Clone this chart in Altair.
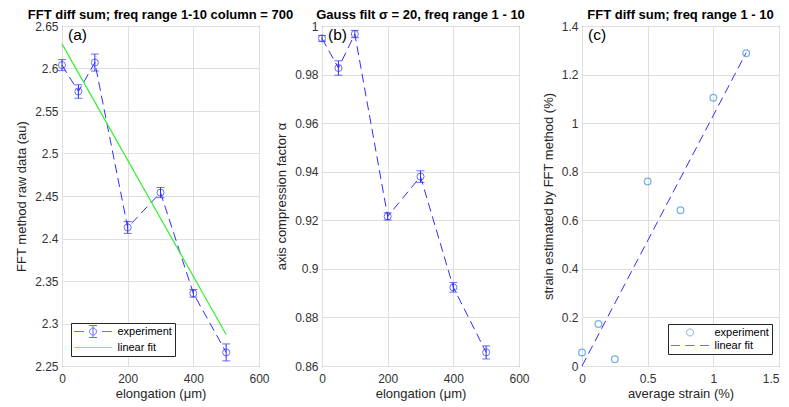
import altair as alt
import pandas as pd

# ---------------- data ----------------
elongation = [0, 50, 100, 200, 300, 400, 500]
fft_raw = [2.604, 2.573, 2.607, 2.413, 2.454, 2.3355, 2.266]
fft_raw_err = [0.0065, 0.008, 0.010, 0.007, 0.006, 0.0045, 0.010]
fit_a_x = [0, 500]
fit_a_y = [2.629, 2.287]

compression = [0.9949, 0.9827, 0.9967, 0.9216, 0.9380, 0.8924, 0.8656]
compression_err = [0.0012, 0.003, 0.0015, 0.0015, 0.0024, 0.002, 0.0027]

avg_strain = [0, 0.125, 0.25, 0.5, 0.75, 1.0, 1.25]
fft_strain = [0.056, 0.173, 0.028, 0.76, 0.641, 1.105, 1.288]
fit_c_x = [0, 1.25]
fit_c_y = [0, 1.29]

series = ["experiment", "linear fit"]
panel_titles = [
    "FFT diff sum; freq range 1-10 column = 700",
    "Gauss filt σ = 20, freq range 1 - 10",
    "FFT diff sum; freq range 1 - 10",
]
panel_labels = ["(a)", "(b)", "(c)"]
x_titles = ["elongation (μm)", "elongation (μm)", "average strain (%)"]
y_titles = ["FFT method raw data (au)", "axis compression factor α",
            "strain estimated by FFT method (%)"]
x_ticks_ab = [0, 200, 400, 600]
y_ticks_a = [2.25, 2.3, 2.35, 2.4, 2.45, 2.5, 2.55, 2.6, 2.65]
y_ticks_b = [0.86, 0.88, 0.9, 0.92, 0.94, 0.96, 0.98, 1.0]
x_ticks_c = [0, 0.5, 1, 1.5]
y_ticks_c = [0, 0.2, 0.4, 0.6, 0.8, 1.0, 1.2, 1.4]

# ---------------- style ----------------
FONT = "Liberation Sans"
BLUE = "#2f2fff"
GREEN = "#33ee33"
LIGHTBLUE = "#3d97d8"
W, H = 197, 340

# legend glyphs (custom symbol paths)
EXP_ERR_PATH = ("M-3.8,0L-1.8,0M1.8,0L3.8,0"
                "M0.7,0A0.7,0.7 0 1,1 -0.7,0A0.7,0.7 0 1,1 0.7,0"
                "M0,-1.2L0,1.2M-0.8,-1.2L0.8,-1.2M-0.8,1.2L0.8,1.2")
SOLID_PATH = "M-3.8,0L3.8,0"
CIRCLE_PATH = "M0.7,0A0.7,0.7 0 1,1 -0.7,0A0.7,0.7 0 1,1 0.7,0"
DASH_PATH = "M-3.8,0L-2.0,0M-0.9,0L0.9,0M2.0,0L3.8,0"


def legend_layer(field, paths, colors, lx, ly):
    df = pd.DataFrame({field: series})
    leg = alt.Legend(title=None, orient="none", legendX=lx, legendY=ly,
                     fillColor="white", strokeColor="#262626", padding=3,
                     symbolSize=100, symbolStrokeWidth=1, symbolOffset=13.5,
                     labelOffset=19, labelFont=FONT, labelFontSize=11,
                     labelColor="black", rowPadding=1)
    return alt.Chart(df).mark_point(filled=False, clip=True, strokeWidth=1).encode(
        x=alt.value(-500), y=alt.value(-500),
        color=alt.Color(f"{field}:N", scale=alt.Scale(domain=series, range=colors), legend=leg),
        shape=alt.Shape(f"{field}:N", scale=alt.Scale(domain=series, range=paths), legend=leg),
    )


def label_layer(text):
    return alt.Chart(pd.DataFrame({"t": [text]})).mark_text(
        align="left", baseline="top", font=FONT, fontSize=15.5, color="black"
    ).encode(x=alt.value(6), y=alt.value(2), text="t:N")


def enc_x(field, domain, ticks, fmt, title, last_right=False):
    axis_kw = dict(values=ticks, format=fmt)
    if last_right:
        axis_kw["labelAlign"] = {"condition": {"test": f"datum.value >= {ticks[-1]}", "value": "right"},
                                 "value": "center"}
    return alt.X(f"{field}:Q", scale=alt.Scale(domain=domain, nice=False, zero=False),
                 axis=alt.Axis(**axis_kw), title=title)


def enc_y(field, domain, ticks, fmt, title):
    return alt.Y(f"{field}:Q", scale=alt.Scale(domain=domain, nice=False, zero=False),
                 axis=alt.Axis(values=ticks, format=fmt), title=title)


def errorbar_panel(idx, yvals, yerr, ydomain, yticks, yfmt, fit=None, legend=None):
    df = pd.DataFrame({
        "x": elongation, "y": yvals,
        "lo": [v - e for v, e in zip(yvals, yerr)],
        "hi": [v + e for v, e in zip(yvals, yerr)],
    })
    X = lambda f: enc_x(f, [0, 600], x_ticks_ab, "d", x_titles[idx])
    Y = lambda f: enc_y(f, ydomain, yticks, yfmt, y_titles[idx])
    base = alt.Chart(df)
    layers = [
        base.mark_line(color=BLUE, strokeWidth=1, strokeDash=[9, 5]).encode(X("x"), Y("y")),
        base.mark_rule(color=BLUE, strokeWidth=1).encode(X("x"), Y("lo"), y2="hi:Q"),
        base.mark_tick(orient="horizontal", size=8, thickness=1, color=BLUE).encode(X("x"), Y("lo")),
        base.mark_tick(orient="horizontal", size=8, thickness=1, color=BLUE).encode(X("x"), Y("hi")),
        base.mark_point(shape="circle", filled=False, size=50, color=BLUE, strokeWidth=1).encode(X("x"), Y("y")),
    ]
    if fit is not None:
        fdf = pd.DataFrame({"x": fit[0], "y": fit[1]})
        layers.append(alt.Chart(fdf).mark_line(color=GREEN, strokeWidth=1.2).encode(X("x"), Y("y")))
    if legend is not None:
        layers.append(legend)
    layers.append(label_layer(panel_labels[idx]))
    return alt.layer(*layers).properties(width=W, height=H, title=panel_titles[idx])


pa = errorbar_panel(0, fft_raw, fft_raw_err, [2.25, 2.65], y_ticks_a, ".2~f",
                    fit=(fit_a_x, fit_a_y),
                    legend=legend_layer("sa", [EXP_ERR_PATH, SOLID_PATH], [BLUE, GREEN], 9, 297))
pb = errorbar_panel(1, compression, compression_err, [0.86, 1.0], y_ticks_b, ".2~f")

dfc = pd.DataFrame({"x": avg_strain, "y": fft_strain})
dfc_fit = pd.DataFrame({"x": fit_c_x, "y": fit_c_y})
Xc = lambda f: enc_x(f, [0, 1.5], x_ticks_c, ".1~f", x_titles[2], last_right=True)
Yc = lambda f: enc_y(f, [0, 1.4], y_ticks_c, ".1~f", y_titles[2])
pc = alt.layer(
    alt.Chart(dfc_fit).mark_line(color=BLUE, strokeWidth=1, strokeDash=[9, 5]).encode(Xc("x"), Yc("y")),
    alt.Chart(dfc).mark_point(shape="circle", filled=False, size=45, color=LIGHTBLUE, strokeWidth=1.3).encode(Xc("x"), Yc("y")),
    legend_layer("sc", [CIRCLE_PATH, DASH_PATH], [LIGHTBLUE, BLUE], 86, 298),
    label_layer(panel_labels[2]),
).properties(width=W, height=H, title=panel_titles[2])

chart = (
    alt.hconcat(pa, pb, pc, spacing=63, bounds="flush")
    .resolve_scale(color="independent", shape="independent")
    .resolve_legend(color="independent", shape="independent")
    .configure_view(stroke="#262626", strokeWidth=1)
    .configure_axis(grid=True, gridColor="#dfdfdf", gridWidth=1, domain=False,
                    ticks=False, tickSize=0, labelFont=FONT, labelFontSize=12,
                    labelColor="#333333", labelFlush=False, titleFont=FONT,
                    titleFontSize=13, titleFontWeight="normal", titleColor="#262626",
                    titlePadding=6)
    .configure_axisX(labelPadding=7, titlePadding=3)
    .configure_axisY(labelPadding=4)
    .configure_title(font=FONT, fontSize=13, fontWeight="bold", color="black",
                     anchor="middle", offset=-2)
    .properties(padding={"left": 7, "top": 0, "right": 0, "bottom": 0})
)

chart.save("out.html", embed_options={"renderer": "svg", "actions": False})
